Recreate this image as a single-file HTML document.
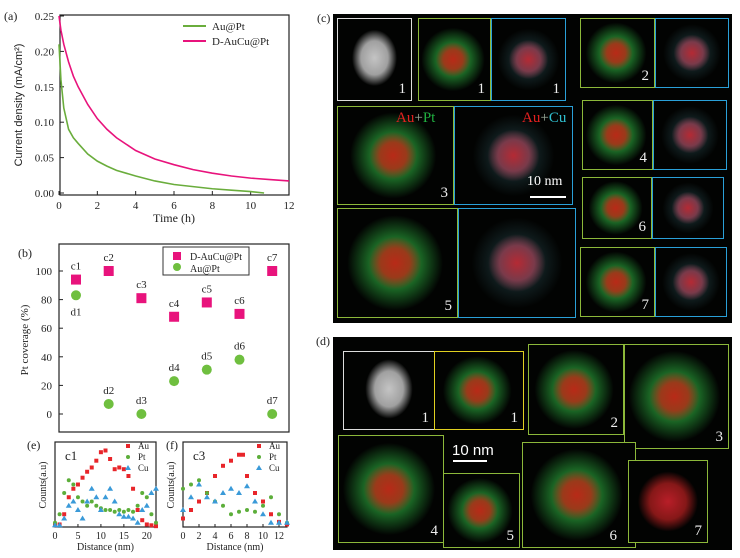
<!DOCTYPE html>
<html><head><meta charset="utf-8"><style>
body{margin:0;background:#fff;width:740px;height:558px;overflow:hidden;position:relative;font-family:"Liberation Serif",serif}
svg{position:absolute;left:0;top:0}
.img{position:absolute;background:#020302;box-sizing:border-box;overflow:hidden}
.num{position:absolute;right:5px;bottom:2px;color:#eee;font:15px "Liberation Serif",serif}
</style></head><body>
<svg width="740" height="558" id="s" font-family="Liberation Serif, serif"></svg>

<div class="img" style="left:333px;top:14px;width:399px;height:309px"></div>
<div class="img" style="left:333px;top:337px;width:399px;height:213px"></div>
<div id="micro"></div>

<script>
// ---------- data ----------
const timeD = [0,0.1,0.25,0.5,0.75,1,1.5,2,2.5,3,4,5,6,7,8,9,10,11,12];
const currD = [0.25,0.23,0.21,0.185,0.165,0.15,0.125,0.105,0.09,0.078,0.06,0.048,0.04,0.033,0.028,0.024,0.021,0.019,0.017];
const timeA = [0,0.1,0.25,0.5,0.75,1,1.5,2,2.5,3,4,5,6,7,8,9,10,10.7];
const currA = [0.21,0.16,0.12,0.09,0.078,0.07,0.055,0.045,0.038,0.032,0.024,0.017,0.012,0.009,0.006,0.004,0.002,0];
const xTicksA = [0,2,4,6,8,10,12];
const yTicksA = [0,0.05,0.10,0.15,0.20,0.25];

const covCats = [1,2,3,4,5,6,7];
const covC = [94,100,81,68,78,70,100];
const covD = [83,7,0,23,31,38,0];
const yTicksB = [0,20,40,60,80,100];

const distE = [0,1,2,3,4,5,6,7,8,9,10,11,12,13,14,15,16,17,18,19,20,21,22];
const auE = [0.02,0.03,0.15,0.35,0.45,0.5,0.58,0.65,0.7,0.78,0.88,0.9,0.8,0.68,0.7,0.68,0.6,0.45,0.2,0.08,0.03,0.02,0.01];
const ptE = [0.05,0.15,0.4,0.55,0.5,0.35,0.3,0.25,0.3,0.25,0.22,0.2,0.2,0.18,0.2,0.18,0.2,0.18,0.25,0.4,0.35,0.15,0.05];
const cuE = [0.02,0.02,0.1,0.25,0.3,0.2,0.1,0.3,0.45,0.35,0.2,0.35,0.45,0.3,0.15,0.12,0.12,0.1,0.05,0.2,0.25,0.4,0.45];
const xTicksE = [0,5,10,15,20];

const distF = [0,1,2,3,4,5,6,7,7.5,8,9,10,11,12,13];
const auF = [0.1,0.2,0.3,0.4,0.6,0.72,0.78,0.85,0.85,0.6,0.4,0.3,0.15,0.06,0.03];
const distF2 = [0,1,2,3,4,5,6,7,8,9,10,11,12,13];
const ptF = [0.45,0.5,0.55,0.4,0.3,0.25,0.15,0.18,0.2,0.18,0.25,0.35,0.15,0.05];
const cuF = [0.2,0.35,0.5,0.35,0.3,0.4,0.45,0.4,0.48,0.3,0.15,0.05,0.05,0.05];
const xTicksF = [0,2,4,6,8,10,12];

// ---------- helpers ----------
const S = document.getElementById('s');
const NS = 'http://www.w3.org/2000/svg';
function el(tag, attrs, parent){const e=document.createElementNS(NS,tag);for(const k in attrs)e.setAttribute(k,attrs[k]);(parent||S).appendChild(e);return e;}
function txt(x,y,t,size,anchor,parent,extra){const e=el('text',Object.assign({x:x,y:y,'font-size':size,'text-anchor':anchor||'start',fill:'#222'},extra||{}),parent);e.textContent=t;return e;}

// ---------- panel a ----------
const ax = t => 59 + t*(289-59)/12;
const ay = v => 193 - v*(193-16)/0.25;
let r=el('rect',{x:60,y:15,width:229,height:180,fill:'none',stroke:'#222','stroke-width':1.2});

xTicksA.forEach(t=>{el('line',{x1:ax(t),x2:ax(t),y1:195,y2:191,stroke:'#222'});
 let tt=txt(ax(t),209,String(t),11,'middle');});
yTicksA.forEach(v=>{el('line',{x1:60,x2:64,y1:ay(v),y2:ay(v),stroke:'#222'});
 let tt=txt(54,ay(v)+4,v.toFixed(2),11,'end');});
let xt=txt(174,222,'Time (h)',12,'middle');
let yt=txt(0,0,'Current density (mA/cm²)',11,'middle',null,{transform:'translate(22,105) rotate(-90)','font-family':'Liberation Sans, sans-serif'});

let pD=el('path',{d:timeD.map((t,i)=>(i?'L':'M')+ax(t)+','+ay(currD[i])).join(''),fill:'none',stroke:'#e8137c','stroke-width':1.6});

let pA=el('path',{d:timeA.map((t,i)=>(i?'L':'M')+ax(t)+','+ay(currA[i])).join(''),fill:'none',stroke:'#6aad3c','stroke-width':1.6});

el('line',{x1:183,x2:206,y1:26,y2:26,stroke:'#6aad3c','stroke-width':2});
el('line',{x1:183,x2:206,y1:41,y2:41,stroke:'#e8137c','stroke-width':2});
let l1=txt(212,30,'Au@Pt',11);
let l2=txt(212,45,'D-AuCu@Pt',11);
let la=txt(4,20,'(a)',12);

// ---------- panel b ----------
const bx = c => 76 + (c-1)*32.7;
const by = v => 414 - v*(414-271)/100;
let rb=el('rect',{x:59,y:244,width:230,height:188,fill:'none',stroke:'#222','stroke-width':1.2});

yTicksB.forEach(v=>{el('line',{x1:59,x2:63,y1:by(v),y2:by(v),stroke:'#222'});
 let tt=txt(52,by(v)+4,String(v),11,'end');});
let ytb=txt(0,0,'Pt coverage (%)',11,'middle',null,{transform:'translate(28,340) rotate(-90)'});

covCats.forEach((c,i)=>{
 let sq=el('rect',{x:bx(c)-5,y:by(covC[i])-5,width:10,height:10,fill:'#e8137c'});
 
 let ci=el('circle',{cx:bx(c),cy:by(covD[i]),r:5,fill:'#6fbf3f'});
 
 let lc=txt(bx(c),by(covC[i])-10,'c'+c,11,'middle');
 let ld=txt(bx(c),c===1?by(covD[i])+20:by(covD[i])-10,'d'+c,11,'middle');
});
let lgb=el('rect',{x:163,y:247,width:86,height:28,fill:'#fff',stroke:'#333'});

el('rect',{x:173,y:252,width:8,height:8,fill:'#e8137c'});
el('circle',{cx:177,cy:267,r:4,fill:'#6fbf3f'});
txt(190,260,'D-AuCu@Pt',10);txt(190,272,'Au@Pt',10);
let lb=txt(18,257,'(b)',12);

// ---------- panel e / f ----------
function profile(name,x0,x1,xmax,xT,series,label){
 const y0=527,y1=442;
 const px=d=>x0+d*(x1-x0)/xmax, py=v=>y0-v*(y0-y1);
 let fr=el('rect',{x:x0,y:y1,width:x1-x0,height:y0-y1,fill:'none',stroke:'#222','stroke-width':1.2});
 
 xT.forEach(t=>{el('line',{x1:px(t),x2:px(t),y1:y0,y2:y0-3,stroke:'#222'});
  let tt=txt(px(t),539,String(t),10,'middle');});
 let xa=txt((x0+x1)/2,550,'Distance (nm)',10,'middle');
 let ya=txt(0,0,'Counts(a.u)',10,'middle',null,{transform:'translate('+(x0-9)+',485) rotate(-90)'});
 
 let lbl=txt(x0+10,460,label,13);
 series.forEach((s,k)=>{
  s.x.forEach((d,i)=>{
   let m;
   if(s.shape==='sq') m=el('rect',{x:px(d)-2,y:py(s.y[i])-2,width:4,height:4,fill:s.c});
   else if(s.shape==='ci') m=el('circle',{cx:px(d),cy:py(s.y[i]),r:2,fill:s.c});
   else m=el('path',{d:'M'+px(d)+','+(py(s.y[i])-3)+'l3,5h-6z',fill:s.c});
   
   
  });
  const lx=x1-28, ly=448+k*11;
  if(s.shape==='sq') el('rect',{x:lx-2,y:ly-4,width:4,height:4,fill:s.c});
  else if(s.shape==='ci') el('circle',{cx:lx,cy:ly-2,r:2,fill:s.c});
  else el('path',{d:'M'+lx+','+(ly-5)+'l3,5h-6z',fill:s.c});
  let lt=txt(lx+10,ly+1,s.n,9);
 });
}
profile('e',55,156,22,xTicksE,[{n:'Au',x:distE,y:auE,c:'#e8252a',shape:'sq'},{n:'Pt',x:distE,y:ptE,c:'#5cae3a',shape:'ci'},{n:'Cu',x:distE,y:cuE,c:'#3a9ad8',shape:'tr'}],'c1');
profile('f',183,287,13,xTicksF,[{n:'Au',x:distF,y:auF,c:'#e8252a',shape:'sq'},{n:'Pt',x:distF2,y:ptF,c:'#5cae3a',shape:'ci'},{n:'Cu',x:distF2,y:cuF,c:'#3a9ad8',shape:'tr'}],'c3');
let le=txt(27,449,'(e)',12);
let lf=txt(166,449,'(f)',12);
let lc_=txt(317,22,'(c)',12);
let ld_=txt(316,345,'(d)',12);

// ---------- microscopy tiles ----------
const M=document.getElementById('micro');
const G='#8cb83a',B='#2aa0d8',W='#ddd',Y='#e0d020';
function tile(name,x1,y1,x2,y2,border,type,num,numRight){
 const d=document.createElement('div');d.className='img';
 
 
 d.style.cssText='left:'+x1+'px;top:'+y1+'px;width:'+(x2-x1)+'px;height:'+(y2-y1)+'px;border:1.5px solid '+border;
 const w=x2-x1,h=y2-y1,s=Math.min(w,h)*0.75;
 let bg;
 if(type==='haadf') bg='radial-gradient(ellipse '+s*0.4+'px '+s*0.5+'px at 50% 48%, #c4c4c4 0%, #a0a0a0 60%, rgba(80,80,80,0) 100%)';
 else if(type==='rg') bg='radial-gradient(circle '+s*0.32+'px at 48% 50%, #b82a18 0%, #9a3a1a 55%, rgba(0,0,0,0) 100%), radial-gradient(circle '+s*0.58+'px at 48% 50%, #2e8a34 0%, #1a6424 55%, rgba(0,0,0,0) 100%)';
 else if(type==='rc') bg='radial-gradient(circle '+s*0.35+'px at 50% 50%, #b42a34 0%, #7a3a4a 60%, rgba(0,0,0,0) 100%), radial-gradient(circle '+s*0.55+'px at 50% 50%, rgba(70,130,140,0.5) 0%, rgba(0,0,0,0) 100%)';
 else bg='radial-gradient(circle '+s*0.5+'px at 50% 50%, #b81e28 0%, #861818 60%, rgba(0,0,0,0) 100%)';
 d.style.background=bg+', #020302';
 if(num){const n=document.createElement('div');n.className='num';n.textContent=num;
  if(numRight) n.style.right=numRight+'px';
  
  
  d.appendChild(n);}
 M.appendChild(d);return d;
}
tile('c-haadf-1',337,18,412,101,W,'haadf','1');
tile('c-aupt-1',418,18,491,101,G,'rg','1');
tile('c-aucu-1',491,18,566,101,B,'rc','1');
tile('c-aupt-2',580,18,655,88,G,'rg','2');
tile('c-aucu-2',655,18,729,88,B,'rc','');
tile('c-aupt-3',337,106,454,205,G,'rg','3');
tile('c-aucu-3',454,106,573,205,B,'rc','');
tile('c-aupt-4',582,100,653,170,G,'rg','4');
tile('c-aucu-4',653,100,727,170,B,'rc','');
tile('c-aupt-6',582,177,652,239,G,'rg','6');
tile('c-aucu-6',652,177,724,239,B,'rc','');
tile('c-aupt-7',580,247,655,317,G,'rg','7');
tile('c-aucu-7',655,247,727,317,B,'rc','');
tile('c-aupt-5',337,208,458,318,G,'rg','5');
tile('c-aucu-5',458,208,576,318,B,'rc','');
tile('d-haadf-1',343,351,435,430,W,'haadf','1');
tile('d-map-1',434,351,524,430,Y,'rg','1');
tile('d-map-3',624,344,729,449,G,'rg','3');
tile('d-map-2',528,344,624,435,G,'rg','2');
tile('d-map-4',338,435,444,543,G,'rg','4');
tile('d-map-6',522,442,636,548,G,'rg','6',18);
tile('d-map-5',443,473,520,548,G,'rg','5');
tile('d-map-7',628,460,708,543,G,'r','7');
function label(name,x,y,html,size){const t=document.createElement('div');
 
 t.style.cssText='position:absolute;left:'+x+'px;top:'+y+'px;font:'+size+'px "Liberation Serif",serif;color:#fff;white-space:nowrap';
 t.innerHTML=html;M.appendChild(t);}
label('au-pt-label',396,110,'<span style="color:#e52020">Au</span><span style="color:#9a9">+</span><span style="color:#20b040">Pt</span>',15);
label('au-cu-label',522,110,'<span style="color:#e52020">Au</span><span style="color:#9a9">+</span><span style="color:#30c0d0">Cu</span>',15);
label('scale-c-text',527,174,'10 nm',14);
label('scale-d-text',452,442,'<span style="font-family:Liberation Sans,sans-serif">10 nm</span>',15);
const bar1=document.createElement('div');

bar1.style.cssText='position:absolute;left:530px;top:196px;width:36px;height:2px;background:#fff';M.appendChild(bar1);
const bar2=document.createElement('div');

bar2.style.cssText='position:absolute;left:453px;top:460px;width:34px;height:2px;background:#fff';M.appendChild(bar2);
</script>
</body></html>
